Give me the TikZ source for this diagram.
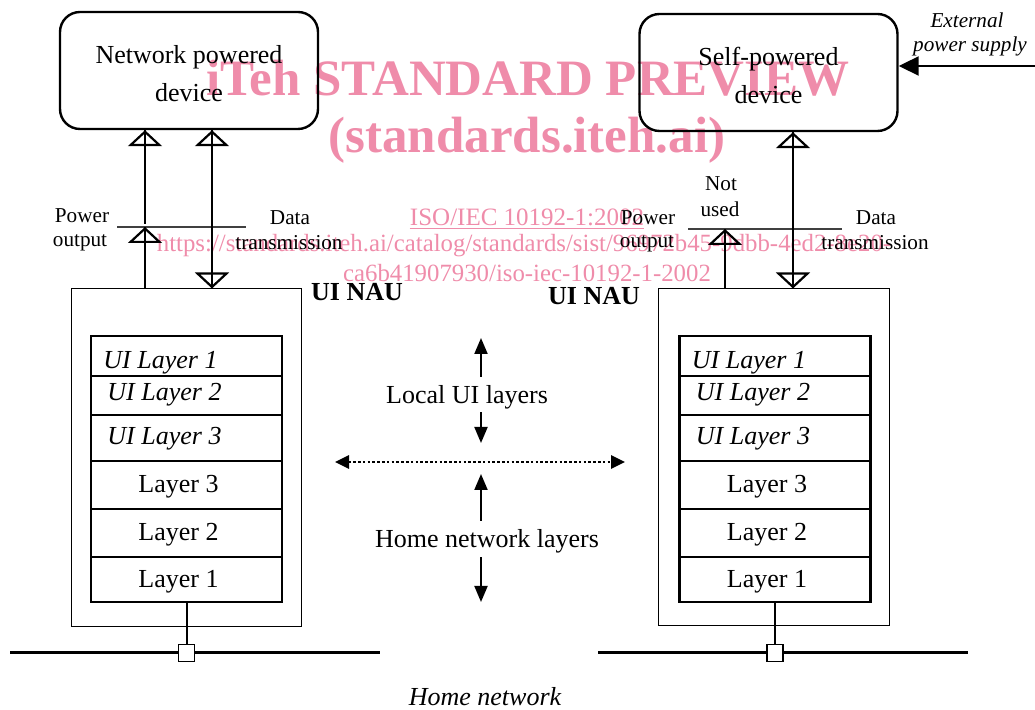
\documentclass[tikz,border=0pt]{standalone}
\usepackage{fontspec}
\setmainfont{Liberation Serif}
\usetikzlibrary{arrows.meta}
\definecolor{wmpink}{RGB}{239,140,170}
\begin{document}
\begin{tikzpicture}[x=0.5pt,y=-0.5pt,
  devbox/.style={draw, line width=1.2pt, rounded corners=10pt, minimum width=129pt, minimum height=58.5pt},
  devtext/.style={align=center, inner sep=0pt, font=\fontsize{13}{19}\selectfont},
  naubox/.style={draw, line width=0.5pt, inner sep=0pt},
  layerbox/.style={draw, line width=1.1pt, inner sep=0pt, minimum width=95.5pt},
  lay/.style={anchor=base, inner sep=0pt, font=\fontsize{13}{15}\selectfont},
  uilay/.style={lay, font=\fontsize{13}{15}\selectfont\itshape},
  small/.style={inner sep=0pt, font=\fontsize{10.6}{12}\selectfont},
  mid/.style={inner sep=0pt, font=\fontsize{13}{15}\selectfont},
  wm/.style={inner sep=0pt, text=wmpink},
  openarr/.style={line width=1pt, -{Triangle[open, length=8pt, width=17pt, line width=1.1pt]}},
  openboth/.style={line width=1pt, {Triangle[open, length=8pt, width=17pt, line width=1.1pt]}-{Triangle[open, length=8pt, width=17pt, line width=1.1pt]}},
  plain/.style={line width=1pt},
  filarr/.style={line width=1pt, -{Triangle[length=8pt, width=6.5pt]}},
  sep/.style={line width=0.6pt, draw=black!75}
]
\useasboundingbox (0,0) rectangle (1035,710);

% ---- watermark ----
\node[wm, font=\bfseries\fontsize{25.5}{30}\selectfont] (wm1) at (528,78) {iTeh STANDARD PREVIEW};
\node[wm, font=\bfseries\fontsize{25.5}{30}\selectfont] (wm2) at (527,140) {(standards.iteh.ai)};
\node[wm, font=\fontsize{12.5}{15}\selectfont] (wm3) at (527,217) {ISO/IEC 10192-1:2002};
\draw[wmpink, line width=0.6pt] ([yshift=-1.5pt]wm3.south west) -- ([yshift=-1.5pt]wm3.south east);
\node[wm, font=\fontsize{12.4}{15}\selectfont] (wm4) at (524,246) {https://standards.iteh.ai/catalog/standards/sist/96972b45-9dbb-4ed2-8e20-};
\node[wm, font=\fontsize{12.4}{15}\selectfont] (wm5) at (527,273) {ca6b41907930/iso-iec-10192-1-2002};

% ---- devices ----
\node[devbox] (dev1) at (189,70.5) {};
\node[devtext] (dev1t) at (189,74) {Network powered\\device};
\node[devbox] (dev2) at (768.5,72.5) {};
\node[devtext] (dev2t) at (768.5,75.5) {Self-powered\\device};

% ---- NAU boxes ----
\node[naubox, minimum width=115pt, minimum height=169pt] (nau1) at (186,458) {};
\node[naubox, minimum width=115.5pt, minimum height=168.5pt] (nau2) at (773.5,457.5) {};
\node[font=\bfseries\fontsize{13}{15}\selectfont, inner sep=0pt] (naul1) at (357,292) {UI NAU};
\node[font=\bfseries\fontsize{13}{15}\selectfont, inner sep=0pt] (naul2) at (594,296) {UI NAU};

% ---- layer stacks ----
\foreach \s/\cx in {L/186.5, R/775} {
  \node[layerbox, minimum height=20pt]   (\s r1) at (\cx,356)   {};
  \node[layerbox, minimum height=19.5pt] (\s r2) at (\cx,395.5) {};
  \node[layerbox, minimum height=23pt]   (\s r3) at (\cx,438)   {};
  \node[layerbox, minimum height=24pt]   (\s r4) at (\cx,485)   {};
  \node[layerbox, minimum height=24pt]   (\s r5) at (\cx,533)   {};
  \node[layerbox, minimum height=22.5pt] (\s r6) at (\cx,579.5) {};
  \node[uilay] (\s t1) at (\cx-26,369) {UI Layer 1};
  \node[uilay] (\s t2) at (\cx-22,401) {UI Layer 2};
  \node[uilay] (\s t3) at (\cx-22,445) {UI Layer 3};
  \node[lay] (\s t4) at (\cx-8,493) {Layer 3};
  \node[lay] (\s t5) at (\cx-8,541) {Layer 2};
  \node[lay] (\s t6) at (\cx-8,588) {Layer 1};
}

% ---- power / data connectors, left ----
\coordinate (pL) at (145,0);
\coordinate (dL) at (212,0);
\coordinate (hL1) at (117,227);
\coordinate (hL2) at (246,227);
\draw[sep] (hL1) -- (hL2);
\draw[plain] (nau1.north -| pL) -- (hL1 -| pL);
\draw[openarr] (nau1.north -| pL) -- (hL1 -| pL);
\draw[plain] ([yshift=1.5pt]hL1 -| pL) -- (dev1.south -| pL);
\draw[openarr] ([yshift=1.5pt]hL1 -| pL) -- (dev1.south -| pL);
\draw[plain] (dev1.south -| dL) -- (nau1.north -| dL);
\draw[openboth] (dev1.south -| dL) -- (nau1.north -| dL);

% ---- power / data connectors, right ----
\coordinate (pR) at (725,0);
\coordinate (dR) at (793,0);
\coordinate (hR1) at (688,229);
\coordinate (hR2) at (842,229);
\draw[sep] (hR1) -- (hR2);
\draw[plain] (nau2.north -| pR) -- (hR1 -| pR);
\draw[openarr] (nau2.north -| pR) -- (hR1 -| pR);
\draw[plain] (dev2.south -| dR) -- (nau2.north -| dR);
\draw[openboth] (dev2.south -| dR) -- (nau2.north -| dR);

% ---- small labels ----
\node[small] (po1a) at (82,216) {Power};
\node[small] (po1b) at (80,243) {output};
\node[small] (dt1a) at (290,218) {Data};
\node[small] (dt1b) at (289,243) {transmission};
\node[small] (nu1) at (721,184) {Not};
\node[small] (nu2) at (720,209) {used};
\node[small] (po2a) at (648,218) {Power};
\node[small] (po2b) at (647,244) {output};
\node[small] (dt2a) at (876,218) {Data};
\node[small] (dt2b) at (875,243) {transmission};

% ---- external supply ----
\node[small, font=\fontsize{10.6}{12}\selectfont\itshape] (ext1) at (967,20) {External};
\node[small, font=\fontsize{10.6}{12}\selectfont\itshape] (ext2) at (970,46) {power supply};
\coordinate (extS) at (1035,66);
\draw[line width=1pt, -{Triangle[length=10pt, width=9.5pt]}] (extS) -- (extS -| dev2.east);

% ---- centre legend ----
\node[mid] (loc) at (467,397) {Local UI layers};
\node[mid] (hnl) at (487,541) {Home network layers};
\coordinate (a1) at (481,338);
\coordinate (a2) at (481,443);
\coordinate (a3) at (481,474);
\coordinate (a4) at (481,602);
\draw[filarr] ([yshift=4pt]loc.north -| a1) -- (a1);
\draw[filarr] ([yshift=-1.5pt]loc.south -| a2) -- (a2);
\draw[filarr] ([yshift=4pt]hnl.north -| a3) -- (a3);
\draw[filarr] ([yshift=-2pt]hnl.south -| a4) -- (a4);
\coordinate (dl) at (335,462);
\coordinate (dr) at (625,462);
\draw[line width=1.3pt, dash pattern=on 1.3pt off 1.1pt, {Triangle[length=7pt, width=6.5pt]}-{Triangle[length=7pt, width=6.5pt]}] (dl) -- (dr);

% ---- home network ----
\coordinate (nL1) at (10,653);
\coordinate (nL2) at (380,653);
\coordinate (nR1) at (598,653);
\coordinate (nR2) at (968,653);
\draw[line width=1.5pt] (nL1) -- (nL2);
\draw[line width=1.5pt] (nR1) -- (nR2);
\node[draw, fill=white, line width=0.6pt, minimum width=8pt, minimum height=8.5pt, inner sep=0pt] (sqL) at (186.5,653) {};
\node[draw, fill=white, line width=0.6pt, minimum width=8pt, minimum height=8.5pt, inner sep=0pt] (sqR) at (775,653) {};
\draw[line width=1pt] (Lr6.south) -- (sqL.north);
\draw[line width=1pt] (Rr6.south) -- (sqR.north);
\node[mid, font=\fontsize{13}{15}\selectfont\itshape] (home) at (485,697) {Home network};
\end{tikzpicture}
\end{document}
